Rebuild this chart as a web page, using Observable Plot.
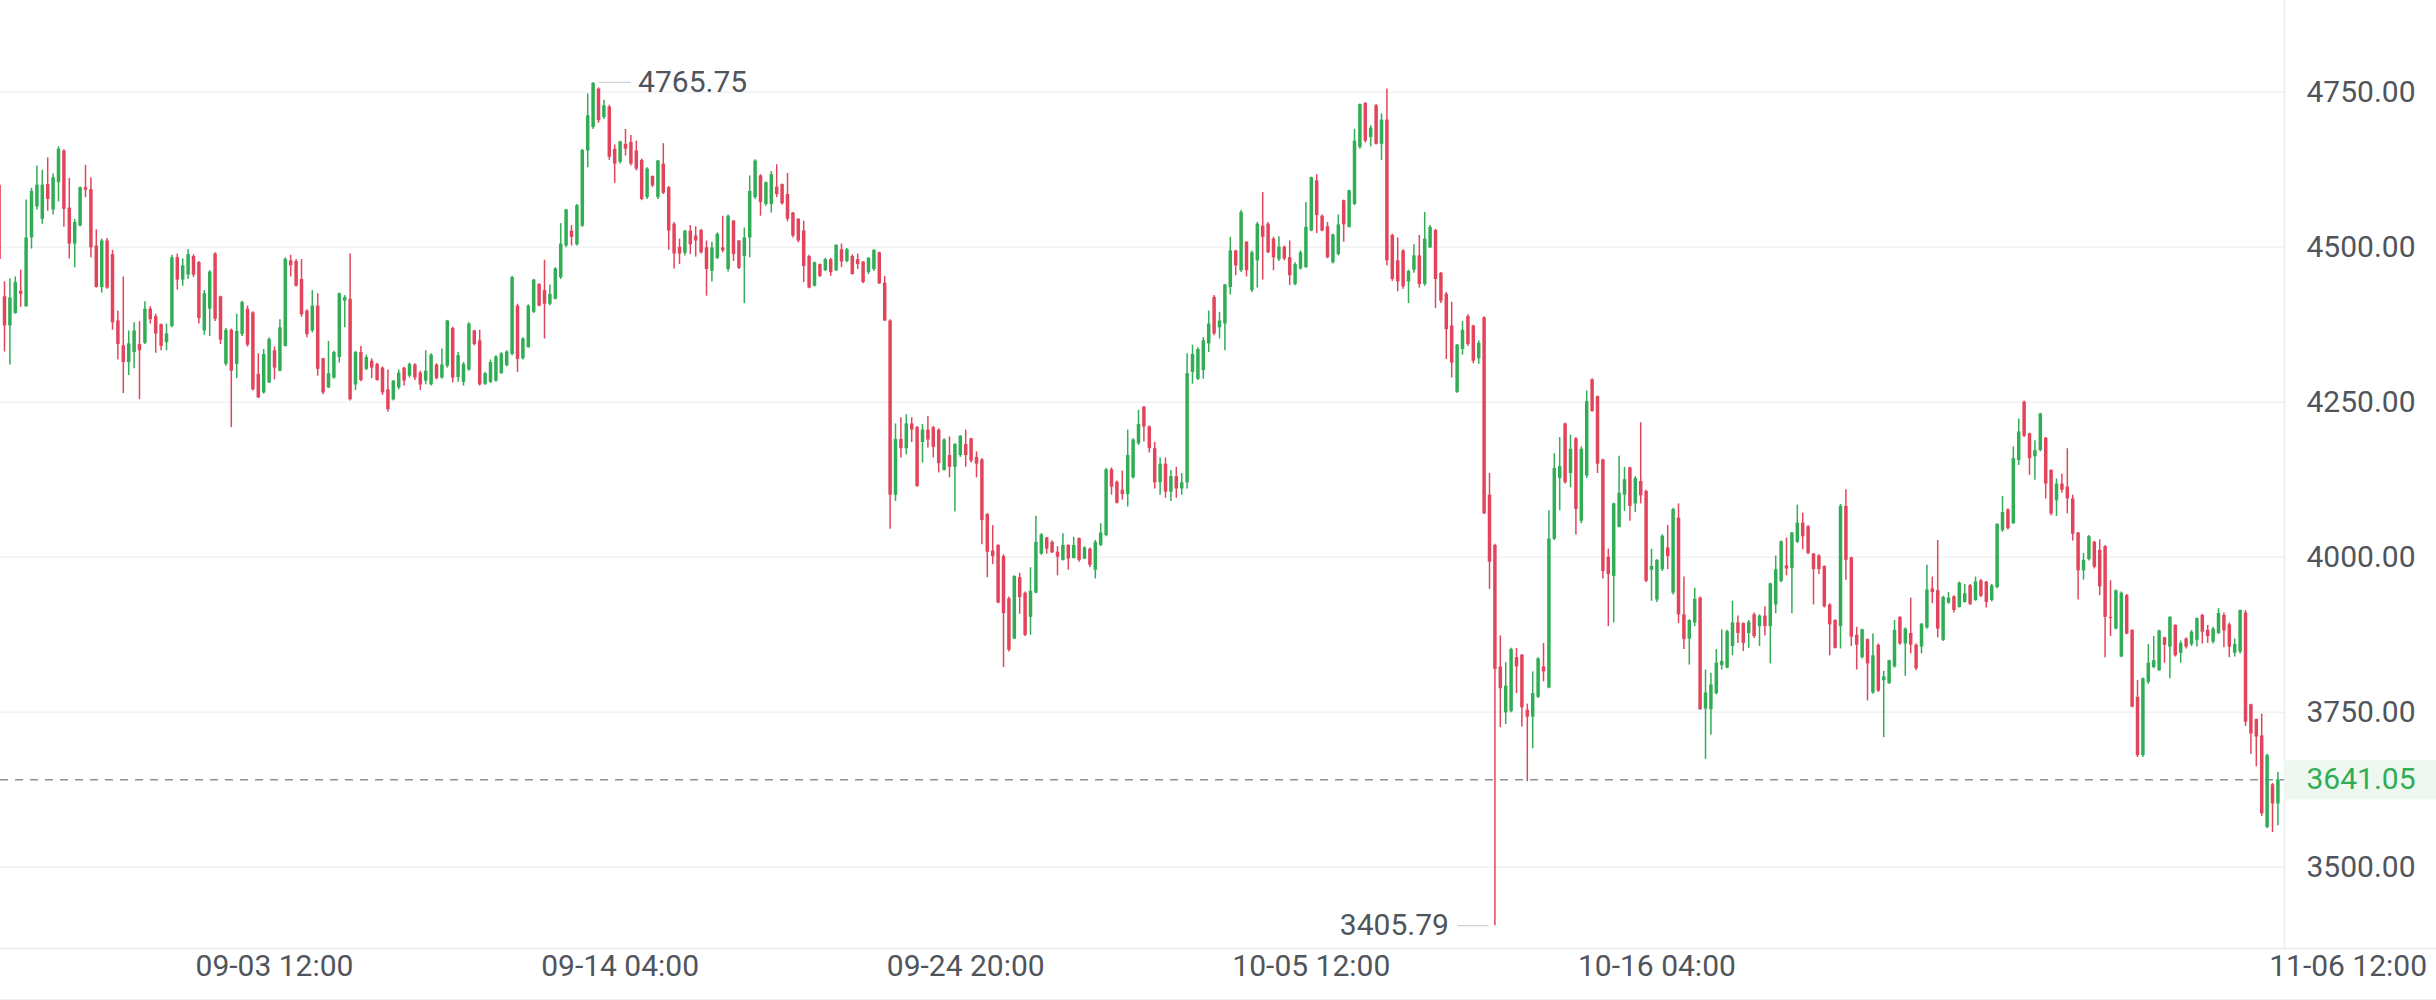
<!DOCTYPE html>
<html><head><meta charset="utf-8">
<script src="https://cdn.jsdelivr.net/npm/d3@7"></script>
<script src="https://cdn.jsdelivr.net/npm/@observablehq/plot@0.6"></script>
<style>
html,body{margin:0;padding:0;background:#fff;overflow:hidden;}
#chart{position:relative;width:2436px;height:1000px;}
#chart .baseline{position:absolute;left:0;right:0;bottom:0;height:1px;background:#eef0f3;}
</style></head><body><div id="chart"><div class="baseline"></div></div>
<script>
// 4-hour candles, first candle 2025-08-26 00:00
const open = [
4600,4420,4373,4393,4429,4404,4515,4565,4545,4601,
4560,4604,4655,4563,4505,4534,4596,4593,4502,4435,
4510,4488,4381,4341,4314,4330,4343,4345,4400,4388,
4375,4346,4372,4483,4447,4455,4485,4475,4365,4400,
4489,4420,4311,4366,4311,4359,4400,4394,4295,4265,
4281,4333,4300,4340,4478,4477,4448,4397,4365,4405,
4320,4273,4289,4322,4413,4416,4278,4330,4303,4316,
4311,4305,4270,4254,4273,4305,4292,4310,4297,4284,
4278,4310,4289,4308,4369,4290,4282,4302,4365,4349,
4279,4282,4284,4296,4309,4327,4405,4320,4338,4395,
4440,4430,4408,4416,4451,4502,4526,4504,4534,4655,
4693,4755,4709,4726,4658,4637,4666,4669,4655,4640,
4580,4614,4580,4634,4596,4537,4500,4490,4526,4518,
4527,4499,4461,4482,4499,4464,4542,4510,4485,4515,
4580,4615,4569,4569,4597,4601,4585,4555,4545,4526,
4485,4437,4472,4462,4480,4462,4496,4477,4485,4480,
4476,4459,4464,4491,4442,4381,4100,4190,4175,4215,
4209,4185,4205,4209,4205,4140,4164,4145,4164,4182,
4191,4161,4157,4069,4010,4019,4001,3933,3868,3967,
3942,3903,3942,4005,4031,4024,4008,3995,4019,3998,
4030,3997,4013,3979,4019,4035,4141,4121,4108,4101,
4128,4183,4242,4210,4175,4120,4150,4105,4130,4110,
4120,4298,4287,4301,4344,4419,4370,4376,4435,4494,
4462,4508,4430,4478,4534,4537,4513,4480,4500,4483,
4440,4465,4467,4526,4607,4550,4533,4475,4488,4575,
4532,4569,4661,4732,4677,4728,4666,4705,4519,4478,
4494,4444,4463,4486,4440,4499,4527,4458,4424,4373,
4266,4335,4388,4373,4320,4386,4100,4019,3823,3749,
3751,3838,3842,3753,3742,3774,3823,3789,4029,4127,
4215,4135,4191,4058,4131,4286,4259,4157,4000,3969,
4048,4100,4144,4086,4122,4106,3979,3931,3980,4015,
3942,4063,3907,3868,3894,3934,3755,3754,3780,3825,
3821,3856,3894,3893,3877,3907,3888,3905,3888,3923,
3961,3986,3982,4024,4055,4049,4005,4002,3985,3923,
3898,3888,4082,3999,3874,3838,3867,3781,3858,3801,
3796,3823,3903,3860,3877,3858,3855,3886,3949,3946,
3866,3926,3936,3919,3927,3954,3930,3962,3960,3930,
3951,4043,4076,4054,4156,4250,4199,4162,4172,4192,
4140,4091,4118,4113,4094,4039,3978,3996,4024,4011,
4017,3903,3884,3839,3938,3882,3774,3680,3798,3822,
3817,3870,3855,3890,3845,3868,3859,3866,3906,3882,
3863,3877,3906,3891,3845,3847,3910,3762,3738,3712,
3564,3633,3602];
const high = [
4612,4444,4449,4452,4463,4576,4595,4631,4624,4644,
4618,4662,4657,4611,4545,4597,4632,4612,4528,4513,
4514,4495,4397,4452,4365,4378,4380,4412,4404,4392,
4376,4376,4487,4489,4481,4496,4488,4477,4430,4462,
4491,4421,4369,4368,4392,4413,4405,4396,4328,4335,
4354,4339,4383,4483,4487,4480,4480,4399,4430,4425,
4321,4348,4332,4426,4422,4489,4332,4340,4326,4320,
4313,4307,4302,4285,4302,4306,4313,4312,4300,4333,
4328,4312,4336,4382,4371,4330,4314,4378,4366,4366,
4298,4318,4325,4330,4333,4453,4408,4354,4407,4448,
4441,4479,4439,4467,4538,4561,4535,4569,4658,4747,
4765.75,4757,4737,4729,4665,4671,4690,4680,4671,4642,
4628,4615,4640,4667,4598,4540,4513,4527,4535,4533,
4529,4510,4508,4523,4550,4552,4543,4511,4531,4615,
4641,4617,4605,4622,4633,4602,4619,4556,4546,4542,
4487,4476,4473,4482,4482,4504,4505,4498,4488,4489,
4477,4483,4496,4492,4453,4383,4215,4225,4230,4225,
4211,4214,4227,4211,4207,4191,4194,4183,4196,4205,
4192,4170,4159,4070,4051,4020,4004,3936,3970,3974,
3944,3983,4066,4038,4032,4026,4017,4038,4020,4032,
4031,4017,4015,4027,4054,4143,4144,4123,4139,4205,
4191,4237,4243,4212,4185,4160,4160,4140,4145,4135,
4328,4342,4338,4354,4397,4422,4395,4440,4516,4495,
4559,4509,4494,4540,4588,4540,4516,4517,4502,4510,
4475,4494,4572,4613,4617,4552,4540,4521,4552,4576,
4592,4690,4731,4733,4696,4730,4715,4755,4521,4515,
4496,4463,4504,4519,4556,4535,4529,4459,4427,4411,
4343,4380,4391,4374,4349,4388,4135,4021,3873,3830,
3853,3853,3843,3763,3815,3838,3861,4075,4167,4193,
4216,4197,4193,4178,4268,4288,4260,4158,4013,4087,
4163,4145,4145,4130,4217,4108,4013,3996,4036,4051,
4079,4086,3968,3899,3950,3936,3818,3813,3851,3883,
3882,3929,3905,3894,3898,3910,3907,3920,3958,4002,
4026,4031,4040,4084,4071,4051,4006,4004,3986,3925,
3899,4085,4109,4000,3887,3884,3868,3876,3860,3816,
3834,3898,3904,3886,3934,3860,3893,3987,3968,4027,
3937,3943,3938,3960,3956,3956,3968,3964,3961,3956,
4054,4098,4078,4178,4223,4252,4200,4188,4232,4193,
4141,4126,4134,4175,4100,4040,4006,4035,4026,4028,
4019,3962,3947,3944,3940,3883,3801,3805,3859,3872,
3882,3871,3904,3891,3865,3870,3882,3902,3908,3890,
3887,3917,3910,3894,3868,3915,3914,3763,3739,3747,
3682,3635,3653];
const low = [
4470,4331,4310,4392,4403,4403,4497,4560,4537,4558,
4552,4573,4532,4481,4467,4533,4580,4483,4434,4426,
4432,4366,4318,4264,4293,4304,4254,4343,4376,4329,
4333,4333,4370,4431,4437,4448,4451,4376,4358,4356,
4380,4343,4308,4209,4288,4356,4339,4268,4256,4263,
4280,4286,4299,4339,4452,4436,4387,4354,4362,4292,
4262,4272,4287,4313,4370,4252,4269,4283,4301,4288,
4284,4261,4234,4252,4270,4276,4289,4285,4269,4278,
4276,4286,4287,4305,4281,4282,4276,4300,4341,4276,
4277,4280,4282,4295,4307,4325,4298,4318,4337,4393,
4404,4352,4405,4415,4448,4499,4502,4502,4532,4628,
4690,4700,4706,4640,4603,4634,4647,4631,4623,4575,
4577,4596,4577,4585,4495,4465,4472,4486,4488,4484,
4489,4421,4444,4480,4491,4460,4477,4464,4409,4483,
4577,4550,4566,4555,4580,4568,4541,4515,4507,4443,
4433,4436,4451,4461,4453,4461,4467,4475,4455,4464,
4441,4456,4461,4440,4380,4045,4090,4160,4165,4185,
4113,4152,4176,4160,4136,4139,4128,4073,4161,4145,
4152,4128,4020,3967,3988,3925,3822,3847,3867,3908,
3872,3874,3941,4003,4005,4006,3970,3994,3979,3997,
3992,3996,3983,3965,4017,4033,4100,4086,4092,4081,
4126,4180,4186,4168,4110,4100,4095,4090,4095,4100,
4110,4279,4285,4287,4330,4357,4352,4333,4423,4454,
4459,4452,4427,4434,4447,4490,4462,4477,4478,4438,
4438,4463,4466,4525,4522,4525,4481,4473,4486,4508,
4531,4567,4658,4668,4662,4665,4640,4470,4445,4428,
4432,4409,4458,4434,4437,4498,4401,4409,4319,4289,
4264,4326,4340,4312,4311,4069,3948,3405.79,3725,3730,
3749,3780,3726,3638,3691,3772,3799,3788,4027,4075,
4118,4112,4036,4054,4127,4234,4135,3965,3888,3894,
4047,4074,4058,4072,4086,3959,3929,3927,3977,3980,
3939,3893,3851,3826,3888,3753,3674,3713,3778,3818,
3820,3841,3861,3848,3853,3869,3856,3873,3828,3909,
3959,3970,3909,4022,4012,4004,3923,3972,3918,3841,
3852,3852,3963,3856,3818,3836,3768,3779,3782,3709,
3795,3821,3858,3808,3844,3817,3844,3884,3925,3870,
3864,3924,3910,3918,3926,3922,3929,3935,3918,3928,
3949,4040,4044,4053,4148,4193,4132,4124,4170,4094,
4067,4066,4103,4070,4026,3931,3963,3994,3981,3938,
3838,3872,3883,3838,3875,3757,3677,3677,3795,3820,
3816,3829,3804,3839,3829,3852,3856,3855,3860,3861,
3860,3875,3854,3838,3839,3844,3727,3682,3662,3582,
3562,3556,3567];
const close = [
4480,4373,4418,4443,4424,4515,4590,4600,4600,4577,
4612,4658,4561,4505,4540,4596,4592,4499,4435,4510,
4434,4378,4343,4314,4344,4365,4333,4400,4383,4360,
4340,4360,4483,4447,4470,4488,4455,4385,4425,4460,
4384,4350,4366,4300,4364,4411,4342,4270,4257,4327,
4351,4305,4370,4480,4470,4437,4391,4359,4405,4303,
4265,4296,4330,4425,4419,4254,4330,4285,4322,4305,
4285,4265,4238,4284,4297,4284,4311,4289,4278,4300,
4326,4288,4310,4381,4289,4325,4311,4376,4343,4278,
4296,4314,4323,4328,4331,4451,4319,4352,4405,4447,
4405,4408,4424,4465,4505,4560,4516,4567,4656,4712,
4764,4704,4728,4645,4634,4670,4658,4634,4626,4577,
4626,4599,4639,4587,4526,4489,4489,4526,4504,4510,
4491,4464,4499,4521,4494,4550,4488,4466,4515,4590,
4639,4572,4604,4617,4585,4570,4545,4518,4510,4469,
4434,4475,4453,4480,4459,4503,4476,4496,4456,4472,
4443,4482,4495,4441,4381,4100,4190,4175,4215,4205,
4114,4205,4189,4177,4151,4189,4145,4182,4195,4164,
4155,4150,4059,4008,4001,3926,3909,3850,3969,3935,
3874,3945,4024,4036,4013,4007,4000,4019,3997,4019,
3995,4015,3987,4024,4039,4141,4113,4087,4101,4164,
4189,4214,4210,4175,4120,4150,4105,4130,4110,4120,
4296,4327,4335,4349,4376,4360,4381,4439,4494,4470,
4556,4462,4491,4537,4516,4491,4483,4500,4481,4454,
4472,4491,4532,4612,4551,4526,4483,4520,4536,4536,
4591,4671,4730,4671,4692,4666,4705,4478,4448,4444,
4436,4461,4486,4440,4513,4532,4448,4413,4367,4313,
4342,4366,4343,4316,4345,4070,3992,3819,3788,3792,
3851,3823,3757,3742,3780,3836,3815,4029,4143,4146,
4120,4174,4077,4174,4251,4235,4150,3977,3972,4086,
4103,4125,4082,4127,4099,3961,3985,3995,4034,4001,
4077,3907,3867,3898,3932,3754,3781,3794,3829,3832,
3880,3894,3877,3861,3895,3872,3905,3888,3957,3980,
4025,3981,4039,4055,4033,4006,3980,3980,3920,3891,
3853,4082,3995,3871,3858,3883,3828,3841,3784,3807,
3833,3882,3860,3884,3858,3820,3892,3947,3943,3884,
3935,3934,3914,3958,3941,3924,3960,3937,3927,3954,
4053,4072,4046,4159,4202,4195,4159,4172,4231,4118,
4070,4118,4108,4094,4037,3978,3995,4033,3984,3952,
3903,3901,3946,3942,3876,3758,3680,3804,3829,3833,
3881,3858,3903,3841,3861,3855,3879,3901,3879,3872,
3884,3909,3881,3855,3859,3914,3734,3715,3710,3586,
3680,3602,3641.05];

const yTicks = [3500, 3750, 4000, 4250, 4500, 4750];
const xTickLabels = ["09-03 12:00", "09-14 04:00", "09-24 20:00", "10-05 12:00", "10-16 04:00", "11-06 12:00"];
const lastPrice = 3641.05;
const highMark = {index: 110, value: 4765.75, label: "4765.75"};
const lowMark = {index: 277, value: 3405.79, label: "3405.79"};

const startUTC = Date.UTC(2025, 7, 26, 0, 0);
const step = 4 * 3600 * 1000;
const xt = i => new Date(startUTC + i * step);
const candles = close.map((c, i) => ({t: xt(i), o: open[i], h: high[i], l: low[i], c}));
const up = candles.filter(d => d.c >= d.o);
const down = candles.filter(d => d.c < d.o);
const xTicks = xTickLabels.map(s => new Date(Date.UTC(2025, +s.slice(0, 2) - 1, +s.slice(3, 5), +s.slice(6, 8), +s.slice(9, 11))));

const GREEN = "#30ad55", RED = "#e2455b", TEXT = "#50555c", GRID = "#f1f2f4", EDGE = "#e9ecf0";
const xStart = xt(0.259), xEnd = xt(423.22), farRight = new Date(Date.UTC(2025, 10, 12));
const FS = 30;

const chart = Plot.plot({
  width: 2436, height: 1000,
  marginLeft: 0, marginRight: 152, marginTop: 0, marginBottom: 52,
  style: {fontFamily: "Roboto, 'Noto Sans', sans-serif", background: "#fff", overflow: "visible"},
  x: {type: "utc", domain: [xStart, xEnd], axis: null},
  y: {domain: [3368.9, 4897.9], axis: null, label: null},
  marks: [
    Plot.ruleY(yTicks, {stroke: GRID, strokeWidth: 1.5}),
    Plot.ruleX([xEnd], {stroke: EDGE, strokeWidth: 1.5}),
    Plot.ruleY([3368.9], {x1: xStart, x2: farRight, stroke: EDGE, strokeWidth: 1.5}),
    Plot.ruleY([lastPrice], {x1: xEnd, x2: farRight, stroke: "#eef8f1", strokeWidth: 39}),
    Plot.ruleY([lastPrice], {stroke: "#8c8f94", strokeWidth: 1.4, strokeDasharray: "8,7"}),
    // wicks
    Plot.ruleX(up, {x: "t", y1: "l", y2: "h", stroke: GREEN, strokeWidth: 1.5}),
    Plot.ruleX(down, {x: "t", y1: "l", y2: "h", stroke: RED, strokeWidth: 1.5}),
    // bodies
    Plot.ruleX(up, {x: "t", y1: "o", y2: "c", stroke: GREEN, strokeWidth: 3.5}),
    Plot.ruleX(down, {x: "t", y1: "o", y2: "c", stroke: RED, strokeWidth: 3.5}),
    // y axis labels
    Plot.text(yTicks, {y: d => d, text: d => d.toFixed(2), frameAnchor: "right", dx: 22, textAnchor: "start", fill: TEXT, fontSize: FS}),
    Plot.text([lastPrice], {y: d => d, text: d => d.toFixed(2), frameAnchor: "right", dx: 22, textAnchor: "start", fill: GREEN, fontSize: FS}),
    // x axis labels
    Plot.text(xTicks, {x: d => d, text: (d, i) => xTickLabels[i], frameAnchor: "bottom", dy: 27, fill: TEXT, fontSize: FS}),
    // high annotation
    Plot.ruleY([highMark.value], {x1: xt(highMark.index + 1.05), x2: xt(highMark.index + 7.1), stroke: "#cfd2d6", strokeWidth: 1.3}),
    Plot.text([highMark], {x: d => xt(d.index), y: "value", text: "label", dx: 45, textAnchor: "start", fill: TEXT, fontSize: FS}),
    // low annotation
    Plot.ruleY([lowMark.value], {x1: xt(lowMark.index - 6.9), x2: xt(lowMark.index - 1.1), stroke: "#cfd2d6", strokeWidth: 1.3}),
    Plot.text([lowMark], {x: d => xt(d.index), y: "value", text: "label", dx: -46, textAnchor: "end", fill: TEXT, fontSize: FS})
  ]
});
document.getElementById("chart").appendChild(chart);
</script></body></html>
